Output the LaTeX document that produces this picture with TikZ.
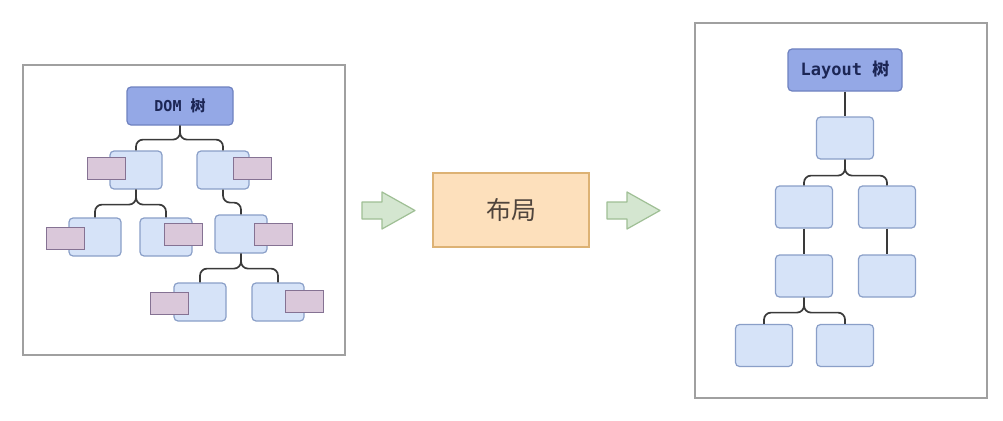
\documentclass[tikz,border=0pt]{standalone}
\usepackage{fontspec}
\setmonofont{DejaVu Sans Mono}
\newfontfamily\cjk{Noto Sans CJK SC}
\begin{document}
\begin{tikzpicture}[x=1pt,y=-1pt,
  box/.style={draw=kBlueLine,fill=kBlue,line width=1.2pt,rounded corners=4pt,inner sep=0pt,minimum width=52pt,minimum height=38pt},
  bigbox/.style={box,minimum width=57pt,minimum height=42pt},
  root/.style={draw=kRootLine,fill=kRoot,line width=1.2pt,rounded corners=4pt,inner sep=0pt,text=kNavy},
  tag/.style={draw=kTagLine,fill=kTag,line width=1pt,inner sep=0pt,minimum width=38pt,minimum height=22pt},
  link/.style={draw=kGrey,line width=1.7pt,rounded corners=7pt},
  frame/.style={draw=kFrame,line width=1.3pt}]
  % colors
  \definecolor{kBlue}{HTML}{D6E3F8}
  \definecolor{kBlueLine}{HTML}{8A9FC8}
  \definecolor{kRoot}{HTML}{94A8E6}
  \definecolor{kRootLine}{HTML}{6F82C0}
  \definecolor{kNavy}{HTML}{1C2655}
  \definecolor{kTag}{HTML}{DAC8DA}
  \definecolor{kTagLine}{HTML}{857293}
  \definecolor{kGrey}{HTML}{3A3A3A}
  \definecolor{kFrame}{HTML}{A0A0A0}
  \definecolor{kGreen}{HTML}{D4E6D0}
  \definecolor{kGreenLine}{HTML}{9FBF95}
  \definecolor{kOrange}{HTML}{FDE0BC}
  \definecolor{kOrangeLine}{HTML}{DDB274}
  \definecolor{kBrown}{HTML}{4F443C}
  \useasboundingbox[fill=white] (0,0) rectangle (1003,420);
  % frames
  \draw[frame] (23,65) rectangle (345,355);
  \draw[frame] (695,23) rectangle (987,398);

  % dom tree
  \node[root,minimum width=106pt,minimum height=38pt,font=\ttfamily\bfseries\fontsize{15}{18}\selectfont]
    (dom) at (180,106) {DOM {\cjk 树}};
  \foreach \name/\x/\y in {a/136/170,b/223/170,c/95/237,d/166/237,e/241/234,f/200/302,g/278/302} {
    \node[box] (\name) at (\x,\y) {};
  };
  \foreach \p/\c/\h in {dom/a/14,dom/b/14,a/c/15,a/d/15,b/e/13,e/f/15,e/g/15} {
    \draw[link] (\p.south) -- ++(0,\h) -| (\c.north);
  };
  % attribute tags
  \foreach \name/\x/\y in {ta/106.5/168,tb/252/168,tc/65/238.5,td/183.5/234,te/273/234,tf/169.5/303,tg/304/301} {
    \node[tag] (\name) at (\x,\y) {};
  };

  % middle step
  \node[draw=kOrangeLine,fill=kOrange,line width=1.2pt,inner sep=0pt,minimum width=156pt,minimum height=74pt,
    text=kBrown,font=\cjk\fontsize{25}{30}\selectfont] (step1) at (511,210) {布局};
  \foreach \x in {362,607} {
    \draw[draw=kGreenLine,fill=kGreen,line width=1.2pt,line join=round]
      (\x,202) -- ++(20,0) -- ++(0,-10) -- ++(33,18.5) -- ++(-33,18.5) -- ++(0,-10) -- ++(-20,0) -- cycle;
  };

  % layout tree
  \node[root,minimum width=114pt,minimum height=42pt,font=\ttfamily\bfseries\fontsize{17}{20}\selectfont]
    (lay) at (845,70) {Layout {\cjk 树}};
  \foreach \name/\x/\y in {m/845/138,n1/804/207,n2/887/207,o1/804/276,o2/887/276,p1/764/345.5,p2/845/345.5} {
    \node[bigbox] (\name) at (\x,\y) {};
  };
  \draw[link] (lay.south) -- (m.north);
  \draw[link] (n1.south) -- (o1.north);
  \draw[link] (n2.south) -- (o2.north);
  \foreach \p/\c/\h in {m/n1/16,m/n2/16,o1/p1/15,o1/p2/15} {
    \draw[link] (\p.south) -- ++(0,\h) -| (\c.north);
  };
\end{tikzpicture}
\end{document}
